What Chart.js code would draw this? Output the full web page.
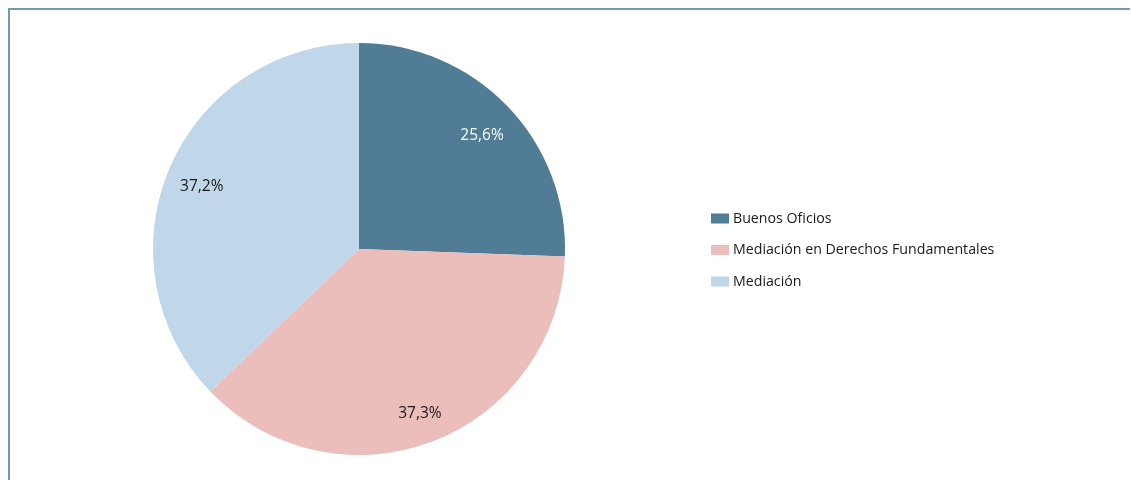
<!DOCTYPE html>
<html>
<head>
<meta charset="utf-8">
<script src="https://cdn.jsdelivr.net/npm/chart.js@4"></script>
<style>
  html, body { margin: 0; padding: 0; background: #ffffff; }
  #wrap { width: 1131px; height: 480px; position: relative; }
</style>
</head>
<body>
<div id="wrap"><canvas id="chart" width="1131" height="480"></canvas></div>
<script>
// Chart data
const categories = ['Buenos Oficios', 'Mediación en Derechos Fundamentales', 'Mediación'];
const shares = [25.6, 37.3, 37.2];
const shareLabels = ['25,6%', '37,3%', '37,2%'];
const sliceColors = ['#507c96', '#ebbdbb', '#bfd7e8'];
const labelColors = ['#ffffff', '#1a1a1a', '#1a1a1a'];

const FONT = '"Open Sans", "Noto Sans", sans-serif';

// Frame lines on the top and left edges
const framePlugin = {
  id: 'frame',
  beforeDraw(chart) {
    const ctx = chart.ctx;
    ctx.save();
    ctx.strokeStyle = '#6f9aaf';
    ctx.lineWidth = 2;
    ctx.beginPath();
    ctx.moveTo(9, 480);
    ctx.lineTo(9, 9);
    ctx.lineTo(1130, 9);
    ctx.stroke();
    ctx.restore();
  }
};

// Percent labels inside each slice
const sliceLabelPlugin = {
  id: 'sliceLabels',
  afterDatasetsDraw(chart) {
    const ctx = chart.ctx;
    const meta = chart.getDatasetMeta(0);
    ctx.save();
    ctx.font = '15.5px ' + FONT;
    ctx.textAlign = 'center';
    ctx.textBaseline = 'middle';
    meta.data.forEach((arc, i) => {
      const p = arc.getProps(['x', 'y', 'startAngle', 'endAngle', 'outerRadius']);
      const mid = (p.startAngle + p.endAngle) / 2;
      const r = p.outerRadius * 0.83;
      ctx.fillStyle = labelColors[i];
      ctx.fillText(shareLabels[i], p.x + Math.cos(mid) * r, p.y + Math.sin(mid) * r + 5);
    });
    ctx.restore();
  }
};

// Legend drawn on the right side
const legendPlugin = {
  id: 'sideLegend',
  afterDraw(chart) {
    const ctx = chart.ctx;
    ctx.save();
    ctx.font = '14.2px ' + FONT;
    ctx.textBaseline = 'middle';
    categories.forEach((name, i) => {
      const y = 218.5 + i * 31.5;
      ctx.fillStyle = sliceColors[i];
      ctx.fillRect(711, y - 5, 18, 10);
      ctx.fillStyle = '#1a1a1a';
      ctx.fillText(name, 733, y);
    });
    ctx.restore();
  }
};

const chart = new Chart(document.getElementById('chart').getContext('2d'), {
  type: 'pie',
  data: {
    labels: categories,
    datasets: [{
      data: shares,
      backgroundColor: sliceColors,
      borderWidth: 0
    }]
  },
  options: {
    responsive: false,
    animation: false,
    layout: { padding: { left: 153, right: 566, top: 43, bottom: 25 } },
    plugins: {
      legend: { display: false },
      tooltip: { enabled: false }
    }
  },
  plugins: [framePlugin, sliceLabelPlugin, legendPlugin]
});
</script>
</body>
</html>
